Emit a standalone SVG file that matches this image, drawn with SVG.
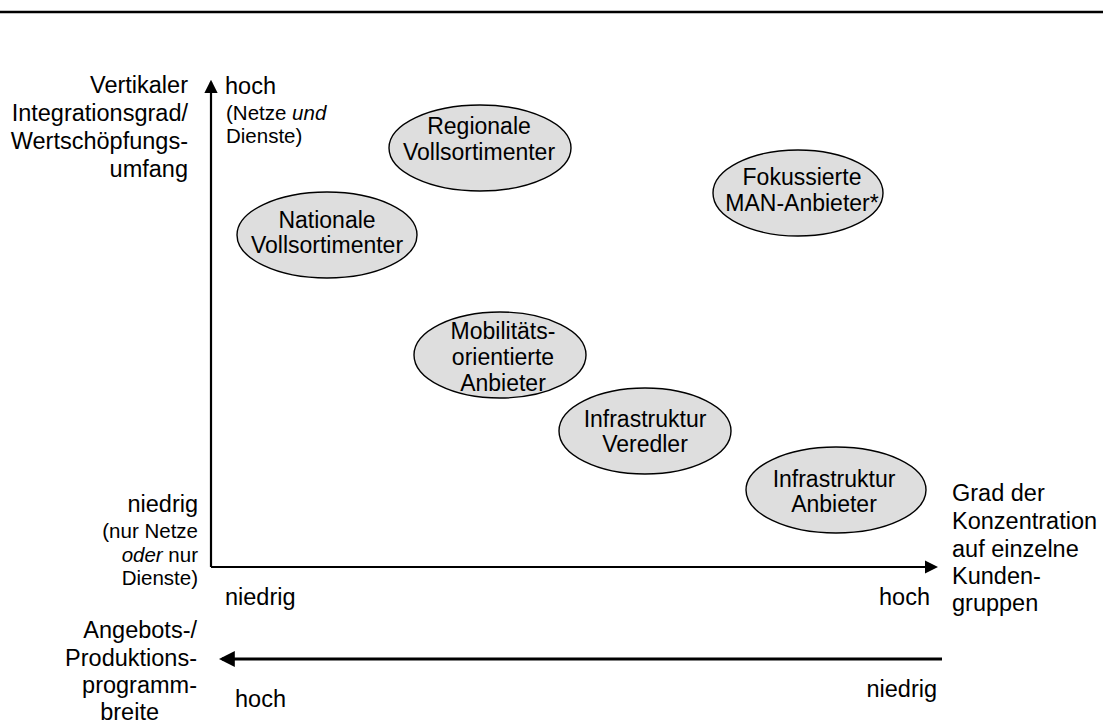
<svg xmlns="http://www.w3.org/2000/svg" width="1103" height="724" viewBox="0 0 1103 724">
<style>
text{font-family:"Liberation Sans",Arial,sans-serif;fill:#000}
.l{font-size:23.5px}
.s{font-size:20.5px}
.e{font-size:23px;text-anchor:middle}
.r{text-anchor:end}
ellipse{fill:#dedede;stroke:#000;stroke-width:1.4}
</style>
<defs>
<marker id="ah" markerWidth="6" markerHeight="6" refX="5" refY="3" orient="auto" markerUnits="strokeWidth"><path d="M0,0 L6,3 L0,6 Z" fill="#000"/></marker>
<marker id="ah2" markerWidth="5" markerHeight="5" refX="4" refY="2.5" orient="auto" markerUnits="strokeWidth"><path d="M0,0 L5,2.5 L0,5 Z" fill="#000"/></marker>
</defs>
<rect width="1103" height="724" fill="#fff"/>
<line x1="0" y1="12" x2="1103" y2="12" stroke="#000" stroke-width="2.5"/>
<g id="connectors" fill="none" stroke="#000">
<path d="M211,567 L211,82" stroke-width="2.2" marker-end="url(#ah)"/>
<path d="M211,567 L936,567" stroke-width="2.2" marker-end="url(#ah)"/>
<path d="M942,659 L222,659" stroke-width="3.2" marker-end="url(#ah2)"/>
</g>
<g id="axis-labels">
<text class="l r" x="188" y="93">Vertikaler</text>
<text class="l r" x="188" y="121">Integrationsgrad/</text>
<text class="l r" x="188" y="149">Wertschöpfungs-</text>
<text class="l r" x="188" y="177">umfang</text>
<text class="l" x="225" y="94">hoch</text>
<text class="s" x="226" y="120">(Netze <tspan font-style="italic">und</tspan></text>
<text class="s" x="226" y="143">Dienste)</text>
<text class="l r" x="198" y="512">niedrig</text>
<text class="s r" x="198" y="538">(nur Netze</text>
<text class="s r" x="198" y="562"><tspan font-style="italic">oder</tspan> nur</text>
<text class="s r" x="198" y="585">Dienste)</text>
<text class="l" x="225" y="605">niedrig</text>
<text class="l r" x="930" y="605">hoch</text>
<text class="l" x="952" y="501">Grad der</text>
<text class="l" x="952" y="529">Konzentration</text>
<text class="l" x="952" y="557">auf einzelne</text>
<text class="l" x="952" y="584">Kunden-</text>
<text class="l" x="952" y="611">gruppen</text>
<text class="l r" x="197" y="638">Angebots-/</text>
<text class="l r" x="197" y="666">Produktions-</text>
<text class="l r" x="197" y="693">programm-</text>
<text class="l r" x="159" y="720">breite</text>
<text class="l" x="235" y="707">hoch</text>
<text class="l r" x="937" y="697">niedrig</text>
</g>
<g id="regionale"><ellipse cx="480" cy="148" rx="91" ry="43"/><text class="e" x="479" y="134">Regionale</text><text class="e" x="479" y="160">Vollsortimenter</text></g>
<g id="nationale"><ellipse cx="327" cy="235" rx="90" ry="43"/><text class="e" x="327" y="228">Nationale</text><text class="e" x="327" y="253">Vollsortimenter</text></g>
<g id="fokussierte"><ellipse cx="798" cy="193" rx="85" ry="43"/><text class="e" x="802" y="185">Fokussierte</text><text class="e" x="802" y="211">MAN-Anbieter*</text></g>
<g id="mobilitaet"><ellipse cx="500" cy="355" rx="86" ry="43"/><text class="e" x="503" y="339">Mobilitäts-</text><text class="e" x="503" y="365">orientierte</text><text class="e" x="503" y="391">Anbieter</text></g>
<g id="veredler"><ellipse cx="645" cy="431" rx="86" ry="43"/><text class="e" x="645" y="427">Infrastruktur</text><text class="e" x="645" y="452">Veredler</text></g>
<g id="anbieter"><ellipse cx="836" cy="490" rx="90" ry="43"/><text class="e" x="834" y="487">Infrastruktur</text><text class="e" x="834" y="512">Anbieter</text></g>
</svg>
